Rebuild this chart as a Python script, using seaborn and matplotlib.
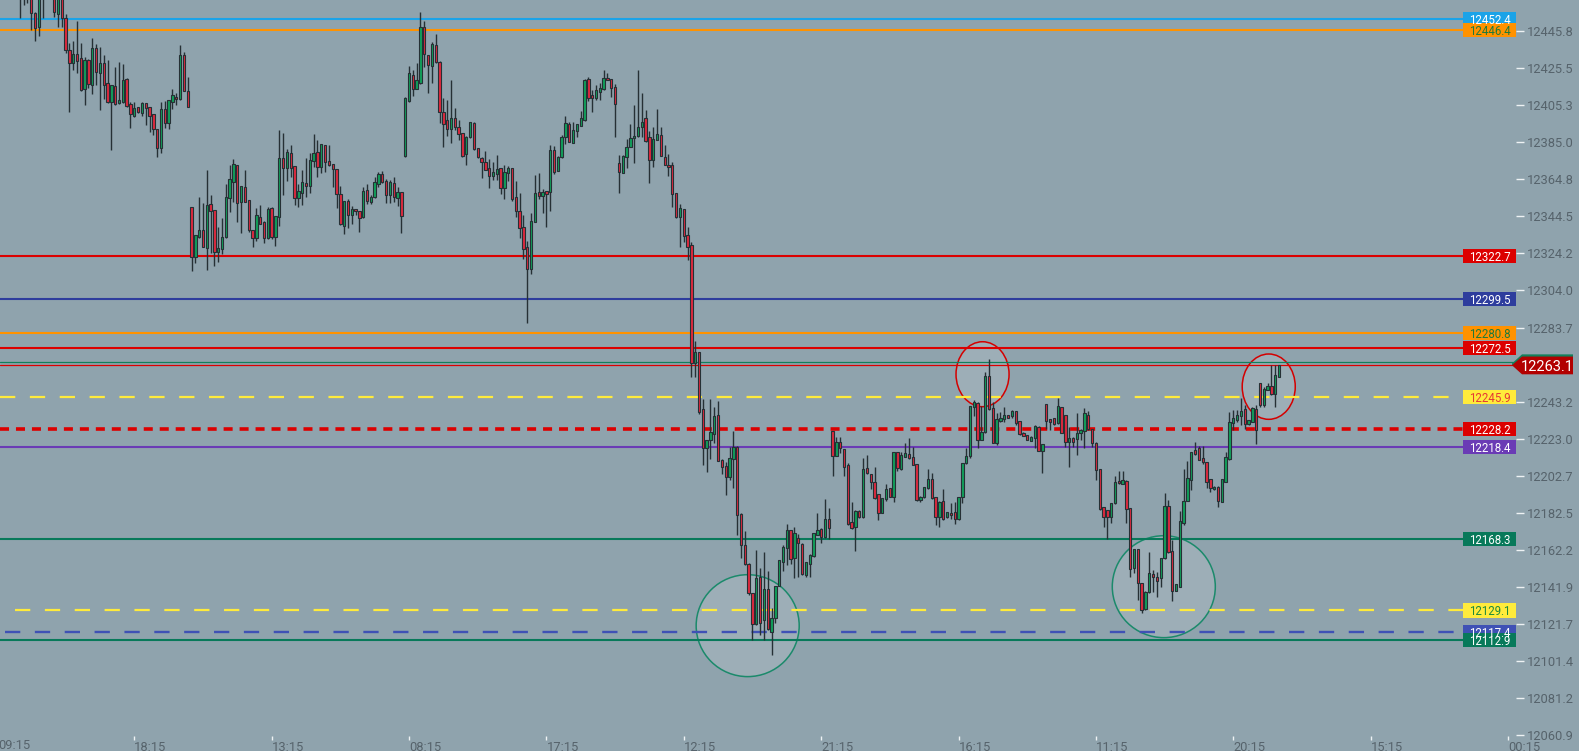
import numpy as np
import pandas as pd
import seaborn as sns
import matplotlib.pyplot as plt
from matplotlib.patches import Rectangle, Polygon, Ellipse
from matplotlib.transforms import blended_transform_factory

# candle data, one bar per slot, first visible slot is bar 6
first_bar = 6
opens = [
    12470, 12475, 12468, 12466, 12455.4, 12448.1, 12466, 12474, 12470, 12465,
    12454.9, 12464, 12452.7, 12435.4, 12428.1, 12433.2, 12430.8, 12413.9, 12429.9, 12416.3,
    12436.3, 12422.6, 12428.1, 12417.2, 12406.8, 12415.7, 12406.2, 12406.8, 12419.5, 12405.7,
    12399.5, 12404.1, 12400.8, 12406.2, 12404.1, 12400.4, 12392.1, 12381.7, 12403.0, 12395.7,
    12407.2, 12409.9, 12408.4, 12432.7, 12413.0, 12349.4, 12322.5, 12333.4, 12337.0, 12327.4,
    12351.1, 12348.0, 12325.2, 12326.5, 12333.4, 12354.3, 12363.4, 12372.4, 12352.2, 12360.3,
    12353.4, 12337.0, 12332.5, 12344.3, 12341.6, 12332.5, 12348.9, 12333.0, 12343.9, 12376.2,
    12370.7, 12378.9, 12372.0, 12354.3, 12357.4, 12362.7, 12361.1, 12374.6, 12379.5, 12371.3,
    12383.5, 12374.6, 12372.9, 12370.2, 12356.5, 12339.4, 12352.9, 12345.1, 12348.5, 12347.4,
    12343.9, 12358.9, 12352.5, 12354.9, 12362.2, 12367.6, 12364.0, 12356.2, 12362.5, 12354.3,
    12357.8, 12377.6, 12407.7, 12421.5, 12414.3, 12417.2, 12447.8, 12432.6, 12426.6, 12437.9,
    12428.6, 12401.7, 12396.9, 12392.0, 12398.2, 12393.1, 12389.9, 12378.4, 12387.7, 12395.3,
    12381.7, 12376.2, 12374.4, 12370.7, 12366.5, 12367.6, 12370.7, 12359.8, 12368.0, 12370.7,
    12354.9, 12347.6, 12338.9, 12327.9, 12315.5, 12341.6, 12357.6, 12355.8, 12358.3, 12358.0,
    12380.8, 12369.4, 12376.7, 12387.7, 12394.8, 12384.8, 12391.3, 12394.0, 12397.1, 12419.5,
    12410.8, 12409.3, 12412.6, 12413.9, 12419.9, 12419.5, 12415.0, 12373.5, 12368.4, 12376.7,
    12382.6, 12387.1, 12388.4, 12393.1, 12398.1, 12387.7, 12375.3, 12386.2, 12388.8, 12377.1,
    12372.5, 12372.5, 12357.1, 12344.0, 12348.3, 12334.3, 12328.8, 12264.5, 12270.2, 12239.0,
    12217.7, 12222.3, 12225.4, 12235.8, 12211.4, 12208.1, 12201.9, 12211.7, 12218.3, 12181.9,
    12164.9, 12154.6, 12138.5, 12121.7, 12147.3, 12123.9, 12140.9, 12117.6, 12124.9, 12142.5,
    12155.8, 12163.1, 12173.1, 12157.6, 12168.6, 12165.3, 12148.5, 12154.4, 12158.6, 12170.4,
    12173.7, 12169.1, 12178.9, 12226.9, 12213.7, 12221.0, 12217.4, 12208.6, 12177.3, 12174.6,
    12183.7, 12180.0, 12206.8, 12203.7, 12199.5, 12192.6, 12182.6, 12189.9, 12195.9, 12191.3,
    12215.5, 12206.2, 12213.2, 12214.5, 12212.8, 12209.0, 12189.5, 12191.3, 12195.9, 12200.8,
    12191.0, 12180.0, 12189.1, 12180.0, 12182.2, 12182.8, 12178.9, 12191.0, 12209.5, 12213.7,
    12240.5, 12242.7, 12222.3, 12226.5, 12257.2, 12239.9, 12220.5, 12232.8, 12233.6, 12235.9,
    12235.4, 12238.1, 12232.7, 12225.9, 12225.0, 12221.7, 12223.2, 12229.6, 12216.3, 12241.8,
    12233.6, 12234.1, 12231.4, 12240.1, 12235.9, 12221.4, 12223.6, 12222.6, 12226.3, 12227.2,
    12235.9, 12228.1, 12220.8, 12206.4, 12185.5, 12184.0, 12180.4, 12187.7, 12200.1, 12198.3,
    12200.1, 12184.9, 12152.2, 12162.5, 12144.0, 12129.8, 12139.4, 12148.9, 12147.2, 12147.1,
    12157.6, 12186.2, 12161.6, 12139.9, 12142.1, 12176.8, 12189.1, 12200.4, 12216.8, 12217.7,
    12212.3, 12210.1, 12200.8, 12195.3, 12196.8, 12188.6, 12199.5, 12211.7, 12231.4, 12233.2,
    12235.4, 12239.0, 12230.8, 12232.3, 12239.0, 12253.2, 12241.4, 12249.6, 12251.9, 12247.2,
    12256.9,
]
highs = [
    12480, 12478, 12472, 12470, 12456.0, 12468, 12476, 12480, 12482, 12470,
    12468, 12468, 12455, 12439.4, 12440.3, 12451.2, 12439.4, 12431.7, 12430.5, 12442.1,
    12438.8, 12437.2, 12432.7, 12429.9, 12416.5, 12426.3, 12429.0, 12427.7, 12420.0, 12407.2,
    12407.2, 12404.4, 12406.8, 12406.5, 12404.5, 12400.6, 12392.3, 12407.2, 12407.5, 12408.3,
    12413.9, 12411.7, 12438.1, 12434.5, 12420.6, 12349.6, 12334.5, 12354.9, 12352.0, 12369.8,
    12356.2, 12348.2, 12338.8, 12343.6, 12362.2, 12372.6, 12375.7, 12372.6, 12361.3, 12369.8,
    12353.6, 12337.2, 12349.2, 12350.7, 12341.8, 12349.4, 12349.8, 12344.7, 12391.7, 12390.2,
    12381.1, 12383.5, 12372.2, 12362.0, 12369.8, 12376.2, 12378.9, 12389.5, 12386.2, 12384.0,
    12383.7, 12383.5, 12373.0, 12370.4, 12361.1, 12353.1, 12354.0, 12350.1, 12348.7, 12347.6,
    12360.7, 12362.2, 12356.2, 12366.2, 12368.9, 12369.4, 12364.7, 12364.3, 12366.2, 12360.3,
    12358.0, 12409.5, 12426.6, 12424.5, 12428.5, 12456.0, 12451.2, 12432.8, 12439.9, 12444.1,
    12429.4, 12409.0, 12408.1, 12419.0, 12403.9, 12397.1, 12390.1, 12388.4, 12396.2, 12396.2,
    12381.9, 12376.7, 12380.2, 12375.8, 12374.0, 12378.0, 12370.9, 12372.5, 12372.2, 12371.1,
    12363.8, 12357.1, 12345.2, 12331.0, 12346.1, 12367.1, 12368.0, 12359.4, 12358.5, 12383.5,
    12382.9, 12377.3, 12388.9, 12399.3, 12396.2, 12395.9, 12395.0, 12402.0, 12419.5, 12420.4,
    12413.5, 12416.3, 12417.2, 12424.5, 12422.6, 12419.7, 12416.8, 12378.0, 12378.0, 12386.6,
    12395.0, 12405.3, 12424.5, 12411.7, 12402.6, 12391.1, 12393.5, 12403.1, 12393.5, 12383.5,
    12378.6, 12374.0, 12357.3, 12351.2, 12348.5, 12338.5, 12330.7, 12276.4, 12270.4, 12244.5,
    12222.5, 12244.5, 12240.5, 12243.6, 12211.6, 12210.5, 12218.3, 12226.9, 12219.0, 12182.1,
    12172.6, 12154.8, 12138.7, 12162.2, 12152.2, 12161.3, 12150.9, 12130.3, 12142.7, 12156.9,
    12164.9, 12176.2, 12173.3, 12174.9, 12170.9, 12165.8, 12155.6, 12159.7, 12171.5, 12182.2,
    12173.9, 12190.1, 12184.9, 12227.1, 12223.7, 12223.7, 12217.6, 12209.5, 12188.2, 12183.9,
    12183.9, 12212.3, 12214.1, 12203.9, 12207.7, 12192.8, 12190.6, 12198.2, 12196.1, 12215.7,
    12215.7, 12215.9, 12220.5, 12223.2, 12218.6, 12209.2, 12191.5, 12196.6, 12206.2, 12204.1,
    12191.2, 12188.8, 12195.3, 12183.0, 12187.7, 12188.6, 12191.3, 12209.7, 12217.7, 12241.1,
    12244.1, 12243.2, 12240.9, 12259.6, 12266.5, 12243.2, 12237.2, 12237.8, 12240.5, 12236.1,
    12238.7, 12238.3, 12232.9, 12226.8, 12225.2, 12224.3, 12230.5, 12229.8, 12220.1, 12242.0,
    12233.8, 12234.5, 12245.0, 12240.3, 12236.1, 12229.2, 12223.8, 12237.2, 12228.1, 12239.9,
    12238.1, 12228.3, 12221.0, 12206.6, 12185.7, 12184.2, 12188.0, 12202.6, 12205.5, 12205.5,
    12200.3, 12185.1, 12162.7, 12162.7, 12144.2, 12139.6, 12161.3, 12151.3, 12150.3, 12157.8,
    12193.5, 12189.5, 12167.6, 12143.6, 12183.7, 12206.3, 12211.0, 12215.9, 12221.0, 12219.0,
    12219.0, 12210.3, 12201.0, 12197.0, 12197.0, 12201.0, 12215.5, 12237.8, 12238.7, 12238.7,
    12245.0, 12241.4, 12233.4, 12240.5, 12241.4, 12253.4, 12251.4, 12253.2, 12263.3, 12263.3,
    12263.5,
]
lows = [
    12452.7, 12460.0, 12461.2, 12446.3, 12440.5, 12443.2, 12452.7, 12465, 12466, 12453.6,
    12448.1, 12448.1, 12433.9, 12401.7, 12424.5, 12423.0, 12413.0, 12405.3, 12414.4, 12411.3,
    12416.3, 12402.6, 12408.6, 12406.2, 12380.8, 12405.5, 12406.0, 12406.5, 12404.5, 12392.9,
    12399.0, 12400.8, 12399.5, 12394.4, 12390.8, 12389.0, 12377.1, 12379.3, 12392.6, 12392.1,
    12403.0, 12405.3, 12408.0, 12412.8, 12404.2, 12314.8, 12318.8, 12332.8, 12327.7, 12315.2,
    12324.6, 12317.6, 12319.7, 12323.7, 12332.5, 12347.1, 12352.5, 12341.6, 12335.2, 12352.3,
    12336.1, 12327.9, 12331.2, 12340.1, 12330.1, 12331.9, 12331.9, 12328.3, 12339.2, 12356.2,
    12364.0, 12366.2, 12350.7, 12349.8, 12350.7, 12355.3, 12357.4, 12371.6, 12366.2, 12368.0,
    12368.9, 12372.0, 12360.3, 12348.9, 12339.9, 12334.8, 12337.9, 12340.3, 12345.2, 12336.1,
    12343.7, 12351.2, 12351.2, 12354.4, 12360.3, 12362.5, 12352.0, 12352.0, 12352.5, 12350.1,
    12335.6, 12376.7, 12407.2, 12410.4, 12413.9, 12417.0, 12426.3, 12411.7, 12417.2, 12428.0,
    12395.3, 12382.6, 12388.4, 12384.8, 12391.7, 12386.2, 12376.7, 12372.5, 12387.5, 12380.8,
    12376.2, 12365.3, 12369.6, 12359.8, 12364.4, 12364.4, 12356.5, 12354.0, 12363.8, 12352.9,
    12344.3, 12332.8, 12321.0, 12286.0, 12313.0, 12341.4, 12354.0, 12346.1, 12338.9, 12347.6,
    12367.6, 12369.2, 12376.5, 12384.0, 12385.1, 12384.6, 12388.0, 12393.8, 12396.8, 12407.5,
    12401.7, 12408.1, 12408.1, 12413.7, 12418.8, 12409.9, 12388.0, 12357.1, 12368.0, 12370.7,
    12382.4, 12373.5, 12388.0, 12388.0, 12385.3, 12362.9, 12371.6, 12386.0, 12377.4, 12372.3,
    12366.7, 12349.4, 12343.4, 12327.9, 12330.7, 12320.6, 12256.9, 12256.9, 12236.5, 12208.6,
    12205.0, 12211.7, 12220.5, 12210.6, 12203.7, 12192.2, 12200.4, 12195.9, 12170.4, 12157.6,
    12154.0, 12137.6, 12113.0, 12121.2, 12115.7, 12113.0, 12118.6, 12104.8, 12122.1, 12142.3,
    12150.9, 12154.0, 12154.6, 12146.7, 12147.6, 12148.5, 12147.6, 12147.6, 12158.4, 12170.2,
    12165.8, 12168.9, 12168.0, 12202.8, 12213.5, 12215.0, 12202.8, 12176.0, 12173.8, 12161.8,
    12179.8, 12179.8, 12203.9, 12195.5, 12190.2, 12178.6, 12182.2, 12189.1, 12191.1, 12188.2,
    12205.5, 12205.9, 12213.0, 12212.1, 12208.4, 12189.1, 12188.6, 12190.4, 12195.7, 12190.2,
    12175.9, 12174.6, 12178.7, 12179.5, 12178.9, 12176.4, 12178.6, 12187.7, 12209.3, 12212.3,
    12235.4, 12218.1, 12222.1, 12226.0, 12238.8, 12220.6, 12219.5, 12232.3, 12232.3, 12234.1,
    12234.1, 12230.5, 12225.0, 12224.4, 12222.0, 12221.5, 12217.7, 12216.0, 12204.1, 12228.1,
    12227.7, 12230.6, 12231.2, 12226.1, 12218.6, 12207.7, 12218.6, 12214.1, 12222.3, 12217.7,
    12227.9, 12218.6, 12200.4, 12184.0, 12174.9, 12168.2, 12177.1, 12187.5, 12198.2, 12198.1,
    12177.1, 12147.6, 12149.8, 12134.9, 12127.6, 12129.6, 12138.9, 12139.4, 12136.7, 12141.8,
    12157.4, 12160.4, 12134.5, 12139.7, 12141.9, 12175.8, 12188.9, 12195.0, 12214.1, 12211.2,
    12209.2, 12195.9, 12194.1, 12195.1, 12185.8, 12188.4, 12199.3, 12211.4, 12227.7, 12232.3,
    12230.5, 12228.1, 12230.5, 12232.1, 12219.9, 12240.5, 12240.5, 12249.4, 12247.0, 12240.5,
    12256.7,
]
closes = [
    12475, 12468, 12466, 12455.4, 12447.2, 12464, 12472, 12470, 12476, 12456.0,
    12464, 12452.7, 12435.4, 12428.1, 12433.2, 12429.6, 12413.5, 12429.9, 12416.6, 12436.3,
    12423.2, 12428.1, 12416.3, 12406.8, 12416.3, 12405.7, 12408.1, 12419.0, 12404.8, 12400.2,
    12403.5, 12401.3, 12406.2, 12403.5, 12399.5, 12392.1, 12381.7, 12403.0, 12395.3, 12408.1,
    12410.6, 12408.4, 12432.7, 12413.0, 12404.4, 12322.5, 12334.3, 12337.0, 12327.9, 12350.5,
    12347.6, 12325.2, 12327.0, 12333.0, 12355.3, 12364.7, 12372.9, 12352.0, 12361.1, 12352.5,
    12337.0, 12332.5, 12345.1, 12340.3, 12332.5, 12348.3, 12333.4, 12344.5, 12376.2, 12370.7,
    12379.5, 12370.7, 12354.3, 12358.3, 12363.1, 12361.3, 12375.3, 12379.3, 12371.3, 12383.8,
    12374.0, 12372.4, 12370.2, 12356.5, 12340.1, 12352.9, 12345.1, 12348.5, 12347.2, 12343.4,
    12358.3, 12353.1, 12354.9, 12363.1, 12367.6, 12363.4, 12356.2, 12363.4, 12354.9, 12357.8,
    12344.9, 12409.0, 12422.6, 12413.9, 12418.8, 12448.1, 12433.0, 12427.2, 12438.7, 12428.6,
    12401.3, 12394.8, 12392.0, 12398.2, 12393.1, 12389.3, 12377.6, 12388.0, 12395.9, 12381.3,
    12376.7, 12374.0, 12369.8, 12366.5, 12368.5, 12370.2, 12359.8, 12368.5, 12371.1, 12353.8,
    12347.6, 12338.0, 12326.5, 12315.9, 12342.1, 12357.1, 12355.8, 12357.6, 12356.7, 12380.8,
    12368.9, 12377.1, 12388.0, 12395.3, 12385.3, 12391.7, 12394.8, 12398.1, 12419.0, 12409.3,
    12409.3, 12413.5, 12414.8, 12419.9, 12419.0, 12414.4, 12405.7, 12368.9, 12377.5, 12382.6,
    12387.1, 12388.4, 12393.1, 12395.9, 12385.7, 12375.3, 12386.6, 12389.3, 12377.6, 12372.5,
    12371.3, 12356.5, 12344.0, 12348.9, 12333.9, 12327.9, 12264.5, 12270.2, 12237.8, 12217.7,
    12222.3, 12226.5, 12235.4, 12210.8, 12207.7, 12201.9, 12212.3, 12218.3, 12181.3, 12164.9,
    12154.6, 12138.5, 12121.7, 12146.7, 12122.1, 12140.9, 12118.8, 12124.9, 12142.5, 12156.7,
    12163.6, 12173.1, 12157.3, 12171.3, 12165.8, 12148.9, 12155.4, 12159.5, 12171.3, 12173.1,
    12169.5, 12178.9, 12174.0, 12213.7, 12221.0, 12217.7, 12207.7, 12176.2, 12174.0, 12183.7,
    12180.0, 12206.2, 12204.1, 12199.2, 12190.4, 12182.6, 12190.4, 12195.3, 12191.3, 12215.5,
    12206.8, 12214.1, 12215.0, 12212.3, 12208.6, 12189.5, 12191.3, 12196.4, 12200.8, 12190.4,
    12180.0, 12188.6, 12178.9, 12182.8, 12181.3, 12178.9, 12191.0, 12209.5, 12213.7, 12240.9,
    12243.2, 12222.3, 12226.8, 12257.2, 12239.0, 12220.8, 12233.8, 12234.5, 12235.9, 12234.5,
    12238.1, 12231.4, 12225.4, 12224.6, 12222.3, 12224.1, 12230.1, 12216.3, 12219.9, 12232.7,
    12231.9, 12230.8, 12240.9, 12226.3, 12221.4, 12223.2, 12221.4, 12226.3, 12227.7, 12236.9,
    12228.1, 12220.8, 12205.9, 12184.4, 12180.0, 12180.0, 12187.7, 12199.2, 12198.6, 12200.4,
    12184.4, 12151.6, 12162.5, 12144.0, 12129.4, 12139.4, 12149.4, 12147.2, 12145.4, 12157.6,
    12186.2, 12161.3, 12139.9, 12143.4, 12178.0, 12189.1, 12201.3, 12215.5, 12214.5, 12211.4,
    12210.1, 12199.5, 12195.9, 12196.8, 12189.1, 12200.8, 12213.2, 12232.3, 12234.1, 12235.9,
    12238.3, 12230.8, 12233.2, 12239.6, 12227.7, 12241.4, 12249.9, 12251.9, 12247.2, 12257.8,
    12263.1,
]

# horizontal levels drawn on the chart
level_prices = [12452.4, 12446.4, 12322.7, 12299.5, 12280.8, 12272.5, 12245.9,
                12228.2, 12218.4, 12168.3, 12129.1, 12117.4, 12112.9]
level_colors = ['#1ba3e8', '#ff9200', '#dc0000', '#2e3d9d', '#ff9200', '#dc0000', '#ffeb3b',
                '#dc0000', '#6a3bb5', '#08795a', '#ffeb3b', '#3f51b5', '#08795a']
level_dashed = [False, False, False, False, False, False, True,
                True, False, False, True, True, False]
level_text_colors = ['white', '#1f7a3a', 'white', 'white', '#1f7a3a', 'white', '#e53935',
                     'white', 'white', 'white', '#1f8a3a', 'white', 'white']

# last price and the two quote lines
last_price = 12263.1
quote_lines = [12264.7, 12263.1]
quote_colors = ['#11805c', '#dc0000']

# circles marking the swing points: bar, price, width (bars), height (price)
circle_bar = [258.3, 333.3, 196.75, 305.8]
circle_price = [12258.2, 12251.4, 12120.8, 12142.1]
circle_w = [13.9, 13.9, 27.0, 27.0]
circle_h = [35.5, 35.7, 55.7, 55.7]
circle_colors = ['#d40000', '#d40000', '#1b8a6b', '#1b8a6b']

# axis ticks
y_ticks = [12445.8, 12425.5, 12405.3, 12385.0, 12364.8, 12344.5, 12324.2, 12304.0,
           12283.7, 12263.5, 12243.2, 12223.0, 12202.7, 12182.5, 12162.2, 12141.9,
           12121.7, 12101.4, 12081.2, 12060.9]
x_tick_bars = [0, 36, 72, 108, 144, 180, 216, 252, 288, 324, 360, 396]
x_tick_labels = ['09:15', '18:15', '13:15', '08:15', '17:15', '12:15', '21:15',
                 '16:15', '11:15', '20:15', '15:15', '00:15']

BG = '#8fa3ad'
EDGE = '#263035'
UP = '#11a05b'
DOWN = '#df293e'
AXIS_TXT = '#56636b'

df = pd.DataFrame({'open': opens, 'high': highs, 'low': lows, 'close': closes})
df['bar'] = np.arange(first_bar, first_bar + len(df))
df['up'] = df['close'] >= df['open']

sns.set_theme(style='white', rc={'axes.facecolor': BG, 'figure.facecolor': BG})
plt.rcParams['font.family'] = ['Roboto', 'DejaVu Sans']
plt.rcParams['lines.scale_dashes'] = False

fig = plt.figure(figsize=(15.79, 7.51), dpi=100)
ax = fig.add_axes([0, 15 / 751, 1516 / 1579, 736 / 751])
ax.set_xlim(0.81, 398.1)
ax.set_ylim(12060.5, 12462.7)
for s in ax.spines.values():
    s.set_visible(False)

# swing circles
for b, p, w, h, c in zip(circle_bar, circle_price, circle_w, circle_h, circle_colors):
    ax.add_patch(Ellipse((b, p), w, h, facecolor=(1, 1, 1, 0.13), edgecolor=c,
                         linewidth=1.1, zorder=1))

# levels
tag_x0 = 1463 / 1516
for p, c, dashed in zip(level_prices, level_colors, level_dashed):
    if dashed:
        if c == '#dc0000':
            ax.axhline(p, 0, tag_x0, color=c, lw=2.6, ls=(0, (6.5, 5.0)), zorder=2)
        elif c == '#3f51b5':
            ax.axhline(p, 0.003, tag_x0, color=c, lw=1.7, ls=(0, (11, 10.5)), zorder=2)
        elif p < 12200:
            ax.axhline(p, 0.01, tag_x0, color=c, lw=1.6, ls=(0, (11, 10.5)), zorder=2)
        else:
            ax.axhline(p, 0, tag_x0, color=c, lw=1.6, ls=(0, (11, 10.5)), zorder=2)
    else:
        ax.axhline(p, 0, tag_x0, color=c, lw=1.5, zorder=2)

for p, c in zip(quote_lines, quote_colors):
    ax.axhline(p, 0, 0.998, color=c, lw=0.9, zorder=2)

# candles
ax.vlines(df['bar'], df['low'], df['high'], color=EDGE, lw=1.0, zorder=3)
body_lo = np.minimum(df['open'], df['close'])
body_h = np.maximum((df['close'] - df['open']).abs(), 0.7)
ax.bar(df['bar'], body_h, bottom=body_lo, width=0.62,
       color=np.where(df['up'], UP, DOWN), edgecolor=EDGE, linewidth=0.8, zorder=4)

# price tags on the right edge
trans = blended_transform_factory(ax.transAxes, ax.transData)
half = 3.85
for p, c, tc in zip(level_prices, level_colors, level_text_colors):
    ax.add_patch(Rectangle((tag_x0, p - half), 1 - tag_x0, 2 * half, transform=trans,
                           facecolor=c, edgecolor='none', clip_on=False, zorder=6))
    ax.text((1 + tag_x0) / 2, p, f'{p:.1f}', transform=trans, ha='center',
            va='center_baseline', fontsize=8.3, color=tc, clip_on=False, zorder=7)

x_pt, x_b, x_r = 1512 / 1516, 1522 / 1516, 1573 / 1516
hh = 4.95
ax.add_patch(Polygon([(x_pt, last_price + 1.0), (x_b, last_price + hh + 1.0),
                      (x_r, last_price + hh + 1.0), (x_r, last_price), (x_pt, last_price)],
                     closed=True, transform=trans, facecolor='#11805c', edgecolor='none',
                     clip_on=False, zorder=8))
ax.add_patch(Polygon([(x_pt, last_price), (x_b, last_price + hh - 0.2), (x_r, last_price + hh - 0.2),
                      (x_r, last_price - hh), (x_b, last_price - hh)],
                     closed=True, transform=trans, facecolor='#b20000', edgecolor='none',
                     clip_on=False, zorder=9))
ax.text((x_b + x_r) / 2, last_price, f'{last_price:.1f}', transform=trans, ha='center',
        va='center_baseline', fontsize=10.5, color='white', clip_on=False, zorder=10)

# y axis on the right (the tick under the last-price tag has no visible label)
ax.yaxis.tick_right()
ax.set_yticks(y_ticks)
ax.set_yticklabels(['' if abs(v - last_price) < 5 else f'{v:.1f}' for v in y_ticks])
ax.tick_params(axis='y', which='both', right=True, left=False, direction='out', length=6,
               width=1, color='#eef2f4', labelcolor=AXIS_TXT, labelsize=9.3, pad=2)

# x axis
ax.set_xticks(x_tick_bars[1:])
ax.set_xticklabels(x_tick_labels[1:], ha='left')
ax.tick_params(axis='x', bottom=True, direction='out', length=3, width=1, color='#eef2f4',
               labelcolor=AXIS_TXT, labelsize=9.3, pad=0.5)
xtrans = blended_transform_factory(ax.transData, ax.transAxes)
ax.text(x_tick_bars[0] + 0.4, -0.0045, x_tick_labels[0], transform=xtrans, ha='left',
        va='top', fontsize=9.3, color=AXIS_TXT, clip_on=False)
ax.set_xlabel('')
ax.set_ylabel('')

fig.savefig('out.png', dpi=100, facecolor=BG)
